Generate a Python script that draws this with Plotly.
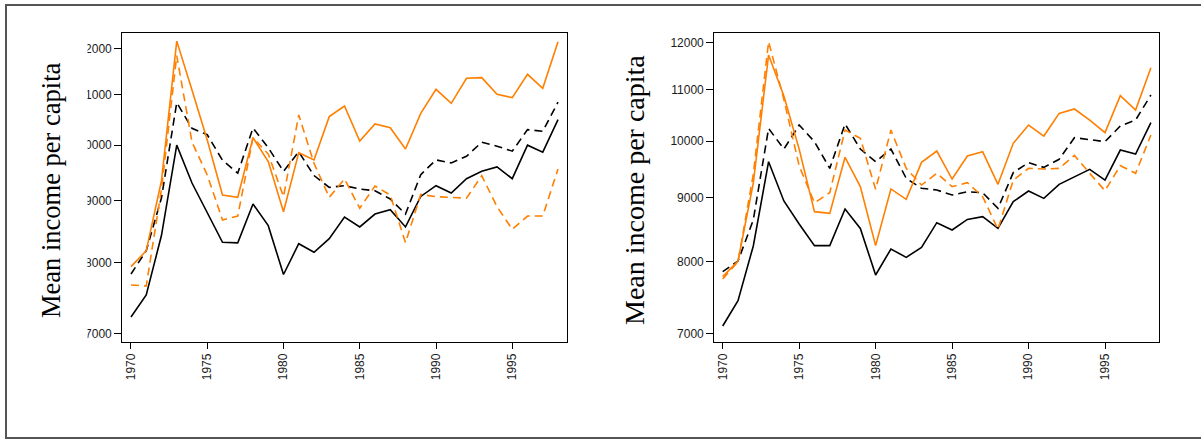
import math
import plotly.graph_objects as go

years = list(range(1970, 1999))

# Left panel
left_black_solid = [7220, 7528, 8430, 10000, 9308, 8793, 8319, 8309, 8944, 8585,
                    7826, 8296, 8163, 8376, 8726, 8564, 8776, 8848, 8564, 9074,
                    9261, 9132, 9385, 9517, 9596, 9385, 10000, 9868, 10495]
left_black_dash = [7833, 8187, 9050, 10840, 10325, 10200, 9718, 9483, 10331, 9950,
                   9517, 9874, 9440, 9231, 9261, 9202, 9173, 9030, 8776, 9457,
                   9725, 9669, 9792, 10056, 9981, 9887, 10299, 10267, 10849]
left_orange_solid = [7943, 8187, 9350, 12180, 11100, 10100, 9098, 9060, 10143, 9693,
                     8815, 9859, 9724, 10556, 10771, 10080, 10410, 10337, 9928, 10622,
                     11117, 10826, 11351, 11366, 11012, 10943, 11438, 11138, 12168]
left_orange_dash = [7671, 7657, 9200, 11850, 10060, 9450, 8678, 8743, 10143, 9833,
                    9070, 10589, 9663, 9060, 9379, 8872, 9256, 9098, 8313, 9108,
                    9070, 9060, 9045, 9438, 8899, 8526, 8743, 8743, 9558]

# Right panel
right_black_solid = [7096, 7437, 8231, 9624, 8947, 8573, 8236, 8236, 8815, 8504,
                     7800, 8185, 8059, 8210, 8594, 8478, 8647, 8690, 8504, 8936,
                     9114, 8991, 9228, 9360, 9487, 9301, 9834, 9761, 10346]
right_black_dash = [7848, 8004, 8638, 10237, 9852, 10301, 9988, 9505, 10321, 9852,
                    9624, 9852, 9331, 9160, 9131, 9047, 9102, 9085, 8826, 9430,
                    9606, 9523, 9666, 10062, 10025, 9988, 10282, 10397, 10890]
right_orange_solid = [7776, 8004, 9250, 11729, 10870, 9850, 8772, 8744, 9702, 9188,
                      8236, 9149, 8975, 9612, 9816, 9319, 9725, 9802, 9228, 9957,
                      10301, 10092, 10526, 10612, 10397, 10156, 10877, 10590, 11457]
right_orange_dash = [7741, 7993, 9400, 12022, 10800, 9550, 8916, 9086, 10205, 10049,
                     9143, 10205, 9505, 9216, 9418, 9188, 9256, 9019, 8489, 9301,
                     9505, 9494, 9505, 9737, 9418, 9120, 9553, 9418, 10111]

x_ticks = [1970, 1975, 1980, 1985, 1990, 1995]
y_ticks = [7000, 8000, 9000, 10000, 11000, 12000]
y_tick_text = [str(v) for v in y_ticks]
title_text = "Mean income per capita"

BLACK = "#000000"
ORANGE = "#ff7f00"
W, H = 1201, 440
DASH = "8px,5px"
LW = 1.6

fig = go.Figure()

def add_panel(xa, ya, bs, bd, os_, od):
    for vals, color, dash in [(bs, BLACK, "solid"), (bd, BLACK, DASH),
                              (os_, ORANGE, "solid"), (od, ORANGE, DASH)]:
        fig.add_trace(go.Scatter(x=years, y=vals, mode="lines", xaxis=xa, yaxis=ya,
                                 line=dict(color=color, width=LW, dash=dash),
                                 showlegend=False, hoverinfo="skip"))

add_panel("x", "y", left_black_solid, left_black_dash, left_orange_solid, left_orange_dash)
add_panel("x2", "y2", right_black_solid, right_black_dash, right_orange_solid, right_orange_dash)

tickfont = dict(family="Liberation Sans, Arial, sans-serif", size=12, color="#1a1a1a")

def xaxis(domain, rng):
    return dict(domain=domain, range=rng, tickvals=x_ticks, ticktext=[str(t) for t in x_ticks],
                ticks="outside", ticklen=6, tickwidth=1, tickcolor="#000",
                tickangle=-90, tickfont=tickfont, showline=True, mirror=True,
                linecolor="#000", linewidth=1.2, showgrid=False, zeroline=False,
                automargin=False)

def yaxis(domain, rng, anchor):
    return dict(domain=domain, type="log", range=[math.log10(rng[0]), math.log10(rng[1])],
                tickvals=y_ticks, ticktext=y_tick_text, anchor=anchor,
                ticks="outside", ticklen=7, tickwidth=1, tickcolor="#000",
                tickfont=tickfont, showline=True, mirror=True,
                linecolor="#000", linewidth=1.2, showgrid=False, zeroline=False,
                automargin=False)

ydom = [(H - 341.7) / H, (H - 33.3) / H]

fig.update_layout(
    width=W, height=H,
    margin=dict(l=0, r=0, t=0, b=0),
    paper_bgcolor="white", plot_bgcolor="white",
    xaxis=xaxis([122.3 / W, 566.7 / W], [1969.43, 1998.57]),
    yaxis=yaxis(ydom, [6890, 12362], "x"),
    xaxis2=dict(xaxis([714.3 / W, 1159.3 / W], [1969.45, 1998.55]), anchor="y2"),
    yaxis2=yaxis(ydom, [6892, 12211], "x2"),
    shapes=[
        # mask that clips the left panel's tick labels
        dict(type="rect", xref="paper", yref="paper", layer="above",
             x0=9 / W, x1=87.5 / W, y0=(H - 360) / H, y1=(H - 20) / H,
             fillcolor="white", line=dict(width=0)),
        # outer frame
        dict(type="rect", xref="paper", yref="paper", layer="above",
             x0=6 / W, x1=1.02, y0=(H - 438) / H, y1=(H - 5) / H,
             fillcolor="rgba(0,0,0,0)", line=dict(color="#555555", width=2)),
    ],
    annotations=[
        dict(text=title_text, xref="paper", yref="paper", x=51 / W, y=(H - 190) / H,
             showarrow=False, textangle=-90, xanchor="center", yanchor="middle",
             font=dict(family="Liberation Serif, Times New Roman, serif", size=26.5, color="#000")),
        dict(text=title_text, xref="paper", yref="paper", x=635 / W, y=(H - 190) / H,
             showarrow=False, textangle=-90, xanchor="center", yanchor="middle",
             font=dict(family="Liberation Serif, Times New Roman, serif", size=28, color="#000")),
    ],
)

fig.write_html("out.html", config={"displayModeBar": False},
               post_script="document.body.style.margin='0';document.body.style.overflow='hidden';")
